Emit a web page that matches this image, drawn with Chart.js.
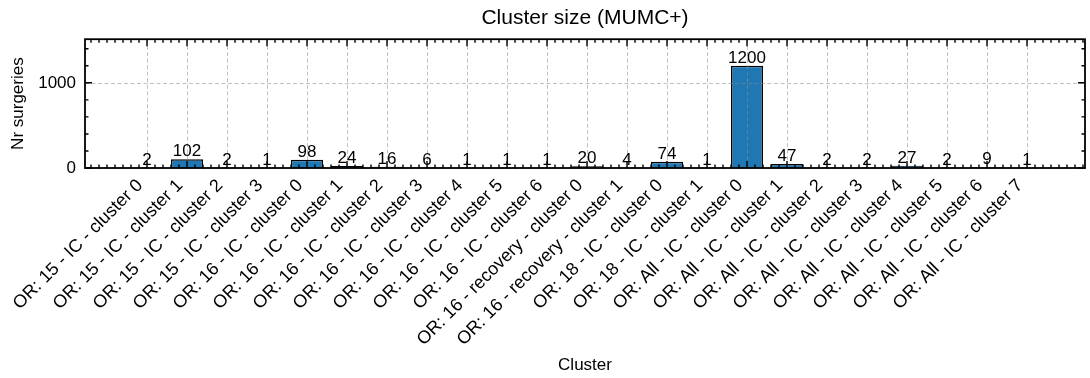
<!DOCTYPE html>
<html lang="en">
<head>
<meta charset="UTF-8">
<title>Cluster size (MUMC+)</title>
<script src="https://cdn.jsdelivr.net/npm/chart.js"></script>
<style>
    html, body { margin: 0; padding: 0; background: #fff; }
    #wrap { width: 1090px; height: 378px; position: relative; }
</style>
</head>
<body>
<div id="wrap"><canvas id="clusterChart"></canvas></div>
<script>
    // cluster names and their sizes
    const clusterLabels = [
        'OR: 15 - IC - cluster 0', 'OR: 15 - IC - cluster 1', 'OR: 15 - IC - cluster 2', 'OR: 15 - IC - cluster 3',
        'OR: 16 - IC - cluster 0', 'OR: 16 - IC - cluster 1', 'OR: 16 - IC - cluster 2', 'OR: 16 - IC - cluster 3',
        'OR: 16 - IC - cluster 4', 'OR: 16 - IC - cluster 5', 'OR: 16 - IC - cluster 6',
        'OR: 16 - recovery - cluster 0', 'OR: 16 - recovery - cluster 1',
        'OR: 18 - IC - cluster 0', 'OR: 18 - IC - cluster 1',
        'OR: All - IC - cluster 0', 'OR: All - IC - cluster 1', 'OR: All - IC - cluster 2', 'OR: All - IC - cluster 3',
        'OR: All - IC - cluster 4', 'OR: All - IC - cluster 5', 'OR: All - IC - cluster 6', 'OR: All - IC - cluster 7'
    ];
    const surgeryCounts = [2, 102, 2, 1, 98, 24, 16, 6, 1, 1, 1, 20, 4, 74, 1, 1200, 47, 2, 2, 27, 2, 9, 1];
    const yMajorTicks = [0, 1000];

    const xLimits = [-1.55, 23.45];
    const yLimits = [0, 1512];

    Chart.defaults.font.family = 'Arial, "Liberation Sans", sans-serif';
    Chart.defaults.font.size = 17;
    Chart.defaults.color = '#000';

    // inward ticks on all sides, dashed grid over the bars, frame and value labels
    const sciAxes = {
        id: 'sciAxes',
        afterDatasetsDraw(chart) {
            const { ctx, chartArea: a, scales: { x, y } } = chart;
            ctx.save();

            // grid
            ctx.strokeStyle = 'rgba(140,140,140,0.55)';
            ctx.lineWidth = 1;
            ctx.setLineDash([4, 2.5]);
            clusterLabels.forEach((_, i) => {
                const px = Math.round(x.getPixelForValue(i)) + 0.5;
                ctx.beginPath(); ctx.moveTo(px, a.top); ctx.lineTo(px, a.bottom); ctx.stroke();
            });
            yMajorTicks.forEach(v => {
                const py = Math.round(y.getPixelForValue(v)) + 0.5;
                ctx.beginPath(); ctx.moveTo(a.left, py); ctx.lineTo(a.right, py); ctx.stroke();
            });
            ctx.setLineDash([]);

            // tick marks
            ctx.strokeStyle = '#000';
            ctx.lineWidth = 1.4;
            const xTick = (v, len) => {
                const px = x.getPixelForValue(v);
                ctx.beginPath();
                ctx.moveTo(px, a.bottom); ctx.lineTo(px, a.bottom - len);
                ctx.moveTo(px, a.top); ctx.lineTo(px, a.top + len);
                ctx.stroke();
            };
            const yTick = (v, len) => {
                const py = y.getPixelForValue(v);
                ctx.beginPath();
                ctx.moveTo(a.left, py); ctx.lineTo(a.left + len, py);
                ctx.moveTo(a.right, py); ctx.lineTo(a.right - len, py);
                ctx.stroke();
            };
            for (let k = Math.ceil(xLimits[0] * 5); k <= Math.floor(xLimits[1] * 5); k++) {
                const v = k / 5;
                const major = k % 5 === 0 && v >= 0 && v < clusterLabels.length;
                xTick(v, major ? 7 : 3.5);
            }
            for (let v = 0; v <= yLimits[1]; v += 200) {
                yTick(v, yMajorTicks.includes(v) ? 7 : 3.5);
            }

            // frame
            ctx.lineWidth = 1.8;
            ctx.strokeRect(a.left, a.top, a.right - a.left, a.bottom - a.top);

            // value labels on top of the bars
            ctx.fillStyle = '#000';
            ctx.font = '17px Arial, "Liberation Sans", sans-serif';
            ctx.textAlign = 'center';
            ctx.textBaseline = 'bottom';
            chart.getDatasetMeta(0).data.forEach((bar, i) => {
                ctx.fillText(String(surgeryCounts[i]), bar.x, bar.y + 1);
            });
            ctx.restore();
        }
    };

    new Chart(document.getElementById('clusterChart'), {
        type: 'bar',
        data: {
            datasets: [{
                label: 'Nr surgeries',
                data: surgeryCounts.map((v, i) => ({ x: i, y: v })),
                backgroundColor: '#1f77b4',
                borderColor: '#000',
                borderWidth: 1.5,
                barPercentage: 0.8,
                categoryPercentage: 1.0
            }]
        },
        options: {
            responsive: true,
            maintainAspectRatio: false,
            animation: false,
            layout: { padding: { left: 4, right: 5, top: 0, bottom: 0 } },
            plugins: {
                legend: { display: false },
                title: {
                    display: true,
                    fullSize: false,
                    text: 'Cluster size (MUMC+)',
                    font: { size: 21, weight: 'normal' },
                    padding: { top: 6, bottom: 8 }
                }
            },
            scales: {
                x: {
                    type: 'linear',
                    offset: false,
                    min: xLimits[0],
                    max: xLimits[1],
                    grid: { display: false, drawTicks: false },
                    border: { display: false },
                    afterBuildTicks: scale => {
                        scale.ticks = clusterLabels.map((_, i) => ({ value: i }));
                    },
                    // the rotated labels need more room than the default half-height cap
                    afterFit: scale => {
                        scale.height = 210;
                        scale.paddingLeft = 0;
                        scale.paddingRight = 0;
                    },
                    ticks: {
                        autoSkip: false,
                        minRotation: 45,
                        maxRotation: 45,
                        padding: 7,
                        labelOffset: -7,
                        font: { size: 18 },
                        callback: v => clusterLabels[v]
                    },
                    title: { display: true, text: 'Cluster', padding: { top: 2, bottom: 2 } }
                },
                y: {
                    min: yLimits[0],
                    max: yLimits[1],
                    grid: { display: false, drawTicks: false },
                    border: { display: false },
                    afterBuildTicks: scale => {
                        scale.ticks = yMajorTicks.map(v => ({ value: v }));
                    },
                    afterFit: scale => { scale.width = 81; },
                    ticks: { padding: 9, callback: v => String(v) },
                    title: { display: true, text: 'Nr surgeries', padding: { top: 4, bottom: 4 } }
                }
            }
        },
        plugins: [sciAxes]
    });
</script>
</body>
</html>
